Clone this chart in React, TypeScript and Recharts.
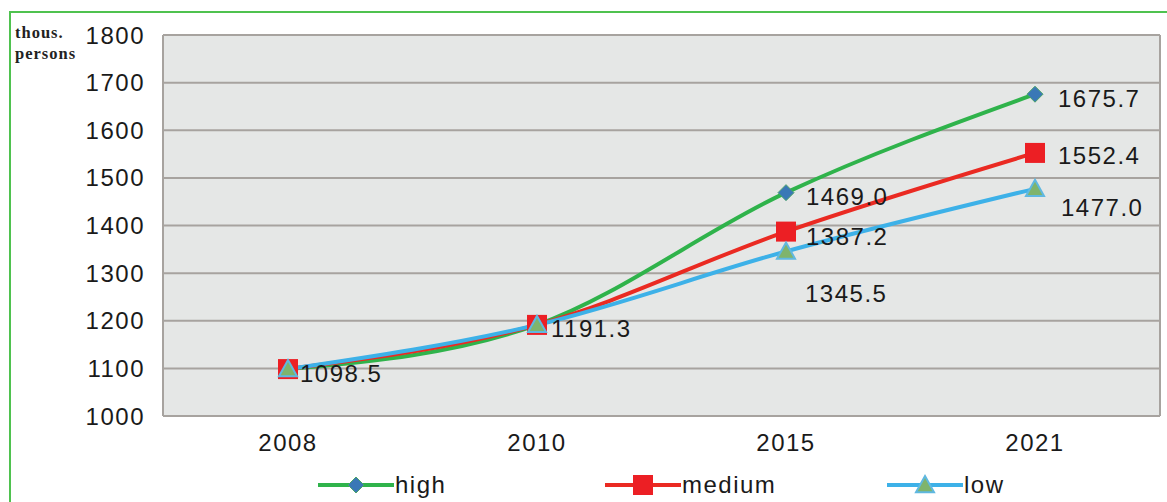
import { LineChart, Line, XAxis, YAxis, CartesianGrid } from 'recharts';

const years = ['2008', '2010', '2015', '2021'];
const high = [1098.5, 1191.3, 1469.0, 1675.7];
const medium = [1098.5, 1191.3, 1387.2, 1552.4];
const low = [1098.5, 1191.3, 1345.5, 1477.0];
const yTicks = [1000, 1100, 1200, 1300, 1400, 1500, 1600, 1700, 1800];

const data = years.map((year, i) => ({ year, high: high[i], medium: medium[i], low: low[i] }));

const FONT = '"Liberation Sans", Arial, sans-serif';
const TEXT = { fontSize: 24, fontFamily: FONT, fill: '#1a1a1a', letterSpacing: 1.5 };

// which points get a value label, and where it sits relative to the point
const labelStyle: Record<string, { show: boolean[]; dx: number[]; dy: number[] }> = {
  high: { show: [false, false, true, true], dx: [0, 0, 20, 23], dy: [0, 0, 4, 4] },
  medium: { show: [true, true, true, true], dx: [12, 14, 20, 23], dy: [5, 4, 5, 3] },
  low: { show: [false, false, true, true], dx: [0, 0, 19, 26], dy: [0, 0, 42, 19] },
};

const Diamond = ({ cx, cy, size = 8 }: any) => (
  <path
    d={`M${cx},${cy - size} L${cx + size},${cy} L${cx},${cy + size} L${cx - size},${cy} Z`}
    fill="#3a78b6"
    stroke="#4aa36a"
    strokeWidth={1}
  />
);
const Square = ({ cx, cy, size = 10 }: any) => (
  <rect x={cx - size} y={cy - size} width={size * 2} height={size * 2} fill="#ec1f24" />
);
const Triangle = ({ cx, cy, size = 9 }: any) => (
  <path
    d={`M${cx},${cy - size} L${cx + size},${cy + size * 0.8} L${cx - size},${cy + size * 0.8} Z`}
    fill="#7fb46c"
    stroke="#5fb8e0"
    strokeWidth={2}
  />
);

const series = [
  { key: 'high', color: '#2fb34b', Marker: Diamond },
  { key: 'medium', color: '#ea2a22', Marker: Square },
  { key: 'low', color: '#3db1e8', Marker: Triangle },
];

const makeLabel = (key: string) => (props: any) => {
  const { x, y, value, index } = props;
  const s = labelStyle[key];
  if (!s.show[index]) return null;
  return (
    <text
      key={`${key}-l-${index}`}
      x={x + s.dx[index]}
      y={y + s.dy[index]}
      dy="0.35em"
      textAnchor="start"
      {...TEXT}
    >
      {value.toFixed(1)}
    </text>
  );
};

export default function App() {
  return (
    <div style={{ position: 'absolute', left: 0, top: 0, width: 1167, height: 502, background: '#fff', overflow: 'hidden' }}>
      <div
        style={{
          position: 'absolute',
          left: 9,
          top: 11,
          width: 1200,
          height: 520,
          borderLeft: '2px solid #4fc24f',
          borderTop: '2px solid #4fc24f',
        }}
      />
      <div
        style={{
          position: 'absolute',
          left: 15,
          top: 22,
          fontFamily: '"Liberation Serif", "Times New Roman", serif',
          fontWeight: 'bold',
          fontSize: 16.5,
          letterSpacing: 1,
          lineHeight: '21px',
          color: '#222',
        }}
      >
        thous.
        <br />
        persons
      </div>
      <LineChart
        width={1167}
        height={502}
        data={data}
        margin={{ top: 35, right: 7, bottom: 46, left: 10 }}
        style={{ position: 'absolute', left: 0, top: 0 }}
      >
        <CartesianGrid
          fill="#e5e7e6"
          stroke="#a7a39f"
          strokeWidth={2}
          verticalCoordinatesGenerator={({ offset }: any) => [offset.left, offset.left + offset.width]}
        />
        <XAxis
          dataKey="year"
          tickLine={false}
          axisLine={{ stroke: '#a7a39f', strokeWidth: 2 }}
          tickMargin={12}
          height={40}
          padding={{ left: 125, right: 125 }}
          tick={TEXT}
        />
        <YAxis
          domain={[1000, 1800]}
          ticks={yTicks}
          tickLine={false}
          axisLine={false}
          tickMargin={12}
          width={153}
          tick={TEXT}
        />
        {series.map(({ key, color, Marker }) => (
          <Line
            key={key}
            type="monotone"
            dataKey={key}
            stroke={color}
            strokeWidth={4}
            isAnimationActive={false}
            dot={(p: any) => <Marker key={`${key}-d-${p.index}`} cx={p.cx} cy={p.cy} />}
            activeDot={false}
            label={makeLabel(key)}
          />
        ))}
      </LineChart>
      {series.map(({ key, color, Marker }, i) => (
        <div
          key={key}
          style={{
            position: 'absolute',
            left: [318, 605, 887][i],
            top: 471,
            display: 'flex',
            alignItems: 'center',
            fontFamily: FONT,
            fontSize: 24,
            letterSpacing: 1.5,
            color: '#1a1a1a',
          }}
        >
          <svg width={76} height={28}>
            <line x1={0} y1={14} x2={76} y2={14} stroke={color} strokeWidth={4} />
            <Marker cx={38} cy={14} />
          </svg>
          <span style={{ marginLeft: 1 }}>{key}</span>
        </div>
      ))}
    </div>
  );
}
